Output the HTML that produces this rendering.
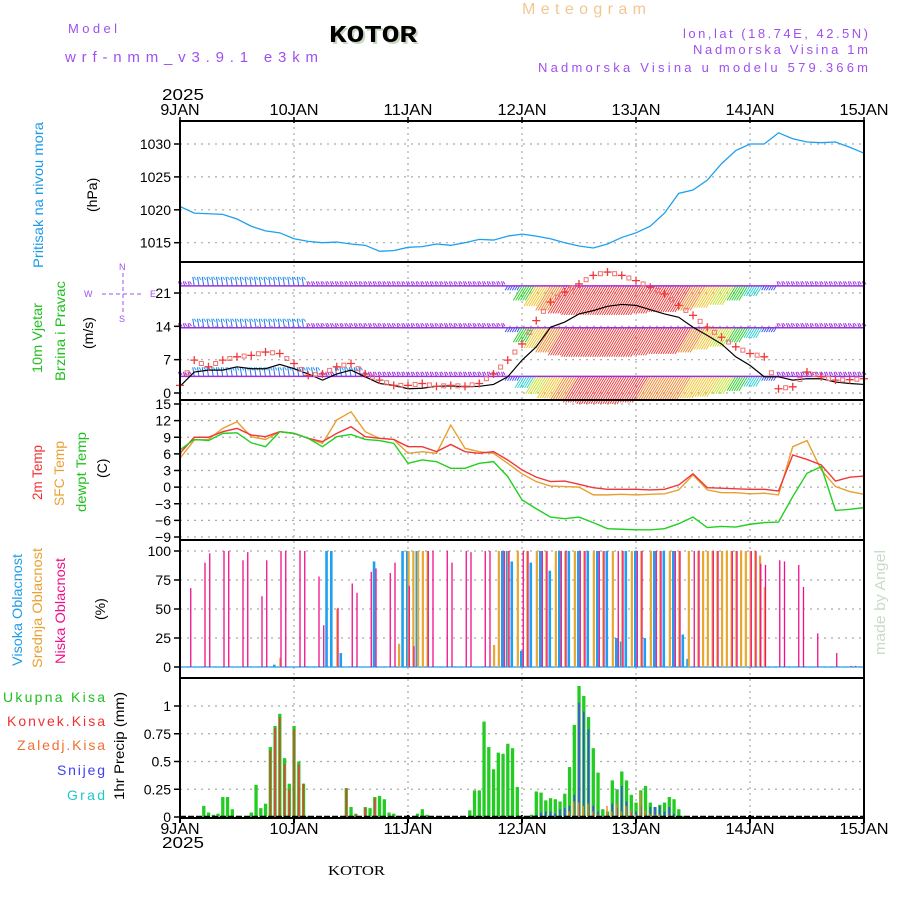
<!DOCTYPE html>
<html><head><meta charset="utf-8">
<style>
html,body{margin:0;padding:0;background:#fff;}
svg{display:block;font-family:"Liberation Sans",sans-serif;}
</style></head>
<body>
<svg id="chart" width="900" height="900" viewBox="0 0 900 900" xmlns="http://www.w3.org/2000/svg">
<g>
<text x="68" y="33" font-size="13" fill="#a050f0" textLength="49" lengthAdjust="spacing">Model</text>
<text x="65" y="62" font-size="15" fill="#a050f0" textLength="253" lengthAdjust="spacing">wrf-nmm_v3.9.1 e3km</text>
<text x="331" y="44" font-size="24" font-weight="bold" fill="#c8d8c0" font-family="Liberation Mono,monospace" textLength="88" lengthAdjust="spacingAndGlyphs">KOTOR</text>
<text x="329" y="42" font-size="24" font-weight="bold" fill="#000" font-family="Liberation Mono,monospace" textLength="88" lengthAdjust="spacingAndGlyphs">KOTOR</text>
<text x="522" y="14" font-size="16" fill="#f0c890" textLength="124" lengthAdjust="spacing">Meteogram</text>
<text x="868" y="38" font-size="13" fill="#a050f0" text-anchor="end" textLength="185" lengthAdjust="spacing">lon,lat (18.74E, 42.5N)</text>
<text x="868" y="54" font-size="13" fill="#a050f0" text-anchor="end" textLength="175" lengthAdjust="spacing">Nadmorska Visina 1m</text>
<text x="868" y="72" font-size="13" fill="#a050f0" text-anchor="end" textLength="330" lengthAdjust="spacing">Nadmorska Visina u modelu 579.366m</text>
<text x="162" y="100" font-size="16" fill="#000" textLength="42" lengthAdjust="spacingAndGlyphs">2025</text>
<text x="162" y="848" font-size="16" fill="#000" textLength="42" lengthAdjust="spacingAndGlyphs">2025</text>
<text x="328" y="875" font-size="14" fill="#000" font-family="Liberation Serif,serif" textLength="57" lengthAdjust="spacingAndGlyphs">KOTOR</text>
<text transform="translate(885,655) rotate(-90)" font-size="15" fill="#c8dcc8" textLength="105" lengthAdjust="spacingAndGlyphs">made by Angel</text>
</g>
<g id="ylabels">
<text transform="translate(43,268) rotate(-90)" font-size="14" fill="#1e9be8" textLength="146" lengthAdjust="spacingAndGlyphs">Pritisak na nivou mora</text>
<text transform="translate(97,212) rotate(-90)" font-size="14" fill="#000">(hPa)</text>
<text transform="translate(42,373) rotate(-90)" font-size="14" fill="#20c020" textLength="70" lengthAdjust="spacingAndGlyphs">10m Vjetar</text>
<text transform="translate(65,381) rotate(-90)" font-size="14" fill="#20c020" textLength="100" lengthAdjust="spacingAndGlyphs">Brzina i Pravac</text>
<text transform="translate(93,349) rotate(-90)" font-size="14" fill="#000">(m/s)</text>
<g font-size="9" fill="#a050f0">
<text x="119" y="270">N</text><text x="84" y="297">W</text><text x="150" y="297">E</text><text x="119" y="322">S</text>
<line x1="102" y1="294" x2="142" y2="294" stroke="#a050f0" stroke-dasharray="4,3"/>
<line x1="123" y1="273" x2="123" y2="314" stroke="#a050f0" stroke-dasharray="4,3"/>
</g>
<text transform="translate(42,500) rotate(-90)" font-size="14" fill="#f03030" textLength="55" lengthAdjust="spacingAndGlyphs">2m Temp</text>
<text transform="translate(64,506) rotate(-90)" font-size="14" fill="#e8a030" textLength="65" lengthAdjust="spacingAndGlyphs">SFC Temp</text>
<text transform="translate(86,512) rotate(-90)" font-size="14" fill="#20c020" textLength="80" lengthAdjust="spacingAndGlyphs">dewpt Temp</text>
<text transform="translate(107,478) rotate(-90)" font-size="14" fill="#000">(C)</text>
<text transform="translate(22,666) rotate(-90)" font-size="14" fill="#1e9be8" textLength="112" lengthAdjust="spacingAndGlyphs">Visoka Oblacnost</text>
<text transform="translate(42,668) rotate(-90)" font-size="14" fill="#e8a030" textLength="120" lengthAdjust="spacingAndGlyphs">Srednja Oblacnost</text>
<text transform="translate(65,664) rotate(-90)" font-size="14" fill="#f0108a" textLength="106" lengthAdjust="spacingAndGlyphs">Niska Oblacnost</text>
<text transform="translate(105,620) rotate(-90)" font-size="14" fill="#000">(%)</text>
<text x="3" y="702" font-size="14" fill="#20c020" textLength="102" lengthAdjust="spacing">Ukupna Kisa</text>
<text x="7" y="726" font-size="14" fill="#f03030" textLength="98" lengthAdjust="spacing">Konvek.Kisa</text>
<text x="17" y="750" font-size="14" fill="#f07030" textLength="88" lengthAdjust="spacing">Zaledj.Kisa</text>
<text x="57" y="775" font-size="14" fill="#4040f0" textLength="48" lengthAdjust="spacing">Snijeg</text>
<text x="67" y="800" font-size="14" fill="#20c8c8" textLength="38" lengthAdjust="spacing">Grad</text>
<text transform="translate(124,800) rotate(-90)" font-size="14" fill="#000" textLength="108" lengthAdjust="spacingAndGlyphs">1hr Precip (mm)</text>
</g>
<g id="plot"></g>
</svg>
<script>
// ---------- data ----------
const days = ["9JAN","10JAN","11JAN","12JAN","13JAN","14JAN","15JAN"];
const hours3 = [0,3,6,9,12,15,18,21,24,27,30,33,36,39,42,45,48,51,54,57,60,63,66,69,72,75,78,81,84,87,90,93,96,99,102,105,108,111,114,117,120,123,126,129,132,135,138,141,144];
const pressure = [1020.5,1019.5,1019.4,1019.3,1018.6,1017.5,1016.8,1016.5,1015.6,1015.2,1015.0,1015.1,1014.8,1014.6,1013.7,1013.8,1014.3,1014.4,1014.8,1014.6,1015.0,1015.5,1015.4,1016.0,1016.3,1016.0,1015.6,1015.0,1014.5,1014.2,1014.8,1015.8,1016.5,1017.5,1019.5,1022.5,1023.0,1024.5,1027.0,1029.0,1030.0,1030.0,1031.7,1030.8,1030.3,1030.2,1030.3,1029.5,1028.6];
const windSpeed = [1.4,4.4,4.8,4.8,5.5,5.1,5.1,6.0,5.1,4.0,2.7,4.0,4.8,3.4,2.0,1.6,0.9,1.0,1.4,1.5,1.3,1.4,1.8,3.4,6.9,9.7,13.8,14.9,16.6,17.3,18.2,18.6,18.4,17.5,16.6,15.9,13.8,12.1,10.3,7.6,5.8,3.4,3.4,2.7,3.0,3.0,2.3,2.0,1.8];
const windGust = [1.6,6.9,5.5,6.9,7.6,7.9,8.6,8.3,6.2,3.7,4.0,5.5,6.2,4.0,2.7,1.6,1.6,2.0,1.4,1.6,1.4,2.0,4.0,6.9,10.3,15.2,19.1,21.2,22.9,24.7,25.4,24.7,23.6,22.2,20.8,18.4,16.3,13.8,11.7,9.7,8.3,7.6,0.9,1.3,4.4,3.4,2.7,2.8,3.0];
const barbLow = [1,2,2,2,2,2,2,2,2,2,1,2,2,1,1,1,1,1,1,1,1,1,1,3,8,12,15,17,18,19,19,19,18,17,17,16,15,14,12,10,7,3,1,1,1,1,1,1,1];
const barbMid = [1,2,2,2,2,2,2,2,2,1,1,1,1,1,1,1,1,1,1,1,1,1,1,3,10,14,17,19,20,20,20,20,20,19,18,18,17,15,13,10,7,3,1,1,1,1,1,1,1];
const barbTop = [1,2,2,2,2,2,2,2,2,1,1,1,1,1,1,1,1,1,1,1,1,1,1,3,10,14,17,19,20,20,20,20,20,19,18,18,17,15,13,10,7,3,1,1,1,1,1,1,1];
const barbLevel = [3.5,13.7,22.5];
const temp2m = [6.1,9.0,9.0,10.0,10.6,9.4,9.1,10.0,9.7,8.8,8.2,9.7,10.9,9.1,8.8,8.6,7.3,7.3,6.4,7.7,6.4,6.1,6.4,4.9,3.1,1.8,1.0,1.1,0.5,-0.1,-0.4,-0.4,-0.4,-0.5,-0.4,0.4,2.4,-0.1,-0.2,-0.3,-0.4,-0.4,-0.7,5.8,5.0,4.0,1.1,1.8,2.0];
const tempSfc = [5.2,8.5,8.6,10.6,11.8,9.1,8.6,10.0,9.7,8.8,7.9,12.1,13.6,10.0,8.8,8.6,6.1,6.4,6.1,11.2,7.0,6.4,6.1,4.3,2.4,1.0,0.2,0.1,0.0,-1.4,-1.4,-1.3,-1.4,-1.3,-1.2,-0.5,2.2,-0.5,-1.0,-1.0,-1.2,-1.1,-1.4,7.3,8.4,3.1,0.1,-0.8,-1.3];
const dewpt = [6.7,8.6,8.4,9.7,9.8,8.0,7.3,10.0,9.7,8.8,7.3,9.1,9.5,8.6,8.4,7.9,4.3,4.9,4.6,3.4,3.4,4.3,4.6,1.9,-2.3,-3.9,-5.4,-5.7,-5.4,-6.4,-7.5,-7.6,-7.7,-7.7,-7.5,-6.6,-5.4,-7.3,-7.1,-7.2,-6.7,-6.4,-6.3,-1.7,2.5,3.7,-4.2,-4.0,-3.7];
const cloudHigh = [0,0,0,0,0,0,0,0,0,0,0,0,0,0,0,0,0,0,0,0,2,0,0,0,0,0,0,0,0,0,0,100,100,0,12,0,0,0,0,0,0,91,0,0,0,0,0,100,100,0,100,0,0,0,0,0,0,0,0,0,0,0,0,0,0,0,0,0,100,100,91,0,14,0,90,0,100,0,83,0,100,0,100,0,100,0,100,0,100,0,100,0,25,22,100,0,100,0,25,0,100,0,100,0,100,0,28,7,0,0,0,0,0,0,0,0,0,0,0,0,0,0,0,0,0,0,0,0,0,0,0,0,0,0,0,0,0,0,0,0,0,0,0];
const cloudMid = [0,0,0,0,0,0,0,0,0,0,0,0,0,0,0,0,0,0,0,0,0,8,0,0,0,0,0,0,0,0,0,0,0,50,0,0,0,0,0,0,0,0,0,0,0,0,20,0,100,100,100,100,100,0,0,0,0,0,0,0,0,0,0,0,0,0,19,100,0,100,0,100,0,100,0,100,0,100,0,100,0,100,0,100,0,100,0,100,0,100,0,100,0,100,0,100,0,100,0,100,0,100,0,100,0,100,0,100,0,100,100,100,100,100,100,100,100,100,100,100,100,100,96,69,0,0,0,0,0,0,0,0,0,0,0,0,0,0,0,0,0,0,0,0,0];
const cloudLow = [0,0,68,0,0,90,98,0,0,100,100,0,0,92,99,0,0,61,92,0,0,100,100,0,0,100,100,0,0,78,36,0,0,51,0,0,72,64,0,0,82,85,0,0,81,90,0,0,70,18,0,0,100,100,0,0,100,90,0,0,100,99,0,0,100,100,0,0,100,100,0,0,100,100,0,0,100,100,0,0,100,100,0,0,100,100,0,0,100,100,0,0,100,100,0,0,100,100,0,0,100,100,0,0,100,100,0,0,100,100,0,0,100,100,0,0,100,100,0,0,100,100,89,88,0,0,92,91,0,0,88,69,0,0,29,0,0,0,12,0,0,1,1,0,0];
const precipHours = [5,6,7,8,9,10,11,12,15,16,17,18,19,20,21,22,23,24,25,26,27,35,36,37,39,40,41,42,43,44,45,50,51,52,61,62,63,64,65,66,67,68,69,70,71,72,74,75,76,77,78,79,80,81,82,83,84,85,86,87,88,89,90,91,92,93,94,95,96,97,98,99,100,101,102,103,104,105,106];
const precipTotal = [0.10,0.04,0.02,0.03,0.18,0.18,0.07,0.01,0.04,0.29,0.08,0.12,0.63,0.82,0.93,0.53,0.30,0.82,0.50,0.30,0.01,0.26,0.09,0.03,0.09,0.08,0.18,0.19,0.16,0.04,0.03,0.03,0.07,0.02,0.06,0.24,0.24,0.86,0.63,0.43,0.58,0.57,0.66,0.62,0.27,0.01,0.02,0.23,0.22,0.15,0.17,0.16,0.14,0.21,0.45,0.83,1.18,1.09,0.90,0.62,0.40,0.07,0.05,0.33,0.25,0.41,0.33,0.20,0.13,0.24,0.28,0.13,0.09,0.11,0.13,0.18,0.16,0.07,0.01];
const precipConv = [0,0,0,0,0,0,0,0,0,0,0,0,0.60,0.80,0.90,0.48,0.25,0.79,0.47,0.30,0,0.26,0,0.02,0.08,0,0.17,0,0,0,0,0,0,0,0,0,0,0,0,0,0,0,0,0,0,0,0,0,0,0,0,0,0,0,0,0,0,0,0,0,0,0,0,0,0,0,0,0,0,0,0,0,0,0,0,0,0,0,0];
const precipSnow = [0,0,0,0,0,0,0,0,0,0,0,0,0,0,0,0,0,0,0,0,0,0,0,0,0,0,0,0,0,0,0,0,0,0,0,0,0,0,0,0,0,0,0,0,0,0,0,0.02,0.04,0.05,0.05,0.03,0.07,0.08,0.10,0.20,1.03,0.95,0.79,0.10,0.05,0.01,0.03,0.12,0.08,0.28,0.14,0.05,0.05,0.10,0.03,0.09,0.09,0.10,0.05,0.09,0.03,0,0];
const precipFrozen = [0,0,0,0,0,0,0,0,0,0,0,0,0,0,0,0,0,0,0,0,0,0,0,0,0,0,0,0,0,0,0,0,0,0,0,0,0,0,0,0,0,0,0,0,0,0,0,0,0,0,0,0,0,0,0.05,0.14,0.13,0.10,0.12,0.05,0.02,0.01,0.10,0.05,0.12,0.05,0.10,0.06,0.02,0.22,0.06,0.03,0.02,0.02,0.01,0.02,0.01,0,0];
const pTicks = [1015,1020,1025,1030];
const wTicks = [0,7,14,21];
const tTicks = [-9,-6,-3,0,3,6,9,12,15];
const cTicks = [0,25,50,75,100];
const rTicks = [0,0.25,0.5,0.75,1];

// ---------- layout ----------
const X0 = 180, X1 = 864, HMAX = 144;
const panels = [
  {name:"pressure", top:121, bot:262},
  {name:"wind", top:262, bot:400},
  {name:"temp", top:400, bot:540},
  {name:"cloud", top:540, bot:678},
  {name:"precip", top:678, bot:818}
];
const xs = h => X0 + (X1 - X0) * h / HMAX;
const lin = (d0,d1,r0,r1) => v => r0 + (v - d0) * (r1 - r0) / (d1 - d0);
const yP = lin(1015,1030,242.7,144);
const yW = lin(0,21,393,293);
const yT = lin(-9,15,537,404);
const yC = lin(0,100,667,551);
const yR = lin(0,1,817,706);
const NS = "http://www.w3.org/2000/svg";
const plot = document.getElementById("plot");
function mk(tag, attrs, parent){
  const e = document.createElementNS(NS, tag);
  for (const k in attrs) e.setAttribute(k, attrs[k]);
  (parent || plot).appendChild(e);
  return e;
}
function group(name){
  const g = mk("g", {});
  
  
  return g;
}
const grid = group("grid-lines");
for (let d = 1; d < days.length - 1; d++) {
  const l = mk("line", {x1:xs(d*24), x2:xs(d*24), y1:121, y2:818, stroke:"#999", "stroke-width":1, "stroke-dasharray":"2,4"}, grid);
  
  
}
function hgrid(vals, yf){
  vals.forEach(v => {
    const l = mk("line", {x1:X0, x2:X1, y1:yf(v), y2:yf(v), stroke:"#aaa", "stroke-width":1.2, "stroke-dasharray":"2,5"}, grid);
    
    
  });
}
hgrid(pTicks, yP); hgrid(wTicks, yW); hgrid(tTicks, yT); hgrid(cTicks, yC); hgrid(rTicks.slice(1), yR);
function yticks(vals, yf, name){
  const g = group(name);
  vals.forEach(v => {
    mk("line", {x1:X0-6, x2:X0, y1:yf(v), y2:yf(v), stroke:"#000", "stroke-width":1.5}, g);
    const t = mk("text", {x:X0-9, y:yf(v)+5, "font-size":14, "text-anchor":"end", fill:"#000"}, g);
    t.textContent = String(v).replace("-", "\u2212");
    
    
  });
}
yticks(pTicks, yP, "pressure-y-axis");
yticks(wTicks, yW, "wind-y-axis");
yticks(tTicks, yT, "temp-y-axis");
yticks(cTicks, yC, "cloud-y-axis");
yticks(rTicks, yR, "precip-y-axis");
const xa = group("x-axis-labels");
days.forEach((d, i) => {
  [115, 834].forEach(ty => {
    const t = mk("text", {x:xs(i*24), y:ty, "font-size":16, "text-anchor":"middle", fill:"#000", textLength:d.length*9.8, lengthAdjust:"spacingAndGlyphs"}, xa);
    t.textContent = d;
    
    
  });
  mk("line", {x1:xs(i*24), x2:xs(i*24), y1:117, y2:123, stroke:"#000", "stroke-width":1.5}, xa);
  mk("line", {x1:xs(i*24), x2:xs(i*24), y1:815, y2:823, stroke:"#000", "stroke-width":2}, xa);
});

// ---------- pressure ----------
const pl = mk("polyline", {points:hours3.map((h,i)=>xs(h)+","+yP(pressure[i])).join(" "), fill:"none", stroke:"#1ea0f0", "stroke-width":1.3});



// ---------- wind ----------
const colorScale = ["#9a30e0","#3050f0","#20a0f0","#20d0d0","#20d020","#c0e020","#f0c020","#f08020","#f03030"];
function windColor(s){ const i = Math.max(0, Math.min(colorScale.length-1, Math.round(s/2.4))); return colorScale[i]; }
const barbs = group("wind-barbs");
[barbLow, barbMid, barbTop].forEach((arr, li) => {
  const base = yW(barbLevel[li]);
  const pts = [];
  arr.forEach((s, i) => {
    for (let k = 0; k < 3; k++) {
      const h = hours3[i] + k;
      if (h > 144) break;
      const x = xs(h);
      const c = windColor(s);
      if (s <= 2) {
        const len = s * 4.5;
        mk("line", {x1:x, y1:base, x2:x - 1.5, y2:base - len, stroke:(s>=2?"#2a70f0":"#9a30e0"), "stroke-width":1}, barbs);
        mk("line", {x1:x, y1:base - len, x2:x + 2, y2:base - len + 3, stroke:(s>=2?"#20a8f0":"#9a30e0"), "stroke-width":1}, barbs);
      } else {
        const len = s * 1.45;
        mk("line", {x1:x, y1:base, x2:x - len*0.6, y2:base + len, stroke:c, "stroke-width":0.9}, barbs);
        mk("line", {x1:x+2.4, y1:base, x2:x + 2.4 - len*0.6, y2:base + len, stroke:c, "stroke-width":0.9}, barbs);
      }
    }
    pts.push(xs(hours3[i]) + "," + base);
  });
  const bl = mk("polyline", {points:pts.join(" "), fill:"none", stroke:"#9a30e0", "stroke-width":1.5}, barbs);
  
  
});
const ws = mk("polyline", {points:hours3.map((h,i)=>xs(h)+","+yW(windSpeed[i])).join(" "), fill:"none", stroke:"#000", "stroke-width":1.2});


const gg = group("wind-gust-markers");
hours3.forEach((h, i) => {
  const x = xs(h), y = yW(windGust[i]);
  mk("path", {d:`M${x-4},${y}H${x+4}M${x},${y-4}V${y+4}`, stroke:"#f03838", "stroke-width":1.3}, gg);
  if (i < hours3.length - 1) {
    const xm = xs(h + 1.5), ym = yW((windGust[i] + windGust[i+1]) / 2);
    mk("rect", {x:xm-2, y:ym-2, width:4, height:4, fill:"none", stroke:"#f07070", "stroke-width":1}, gg);
  }
});

// ---------- temperature ----------
[[tempSfc,"#e8a030","sfc-temp-line"],[temp2m,"#f03838","temp-2m-line"],[dewpt,"#20d020","dewpoint-line"]].forEach(([arr,c,n]) => {
  const l = mk("polyline", {points:hours3.map((h,i)=>xs(h)+","+yT(arr[i])).join(" "), fill:"none", stroke:c, "stroke-width":1.4});
  
  
});

// ---------- clouds ----------
const cg = group("cloud-bars");
mk("line", {x1:X0, x2:X1, y1:yC(0), y2:yC(0), stroke:"#20a0f0", "stroke-width":1.2}, cg);
for (let h = 0; h <= 144; h++) {
  const x = xs(h);
  if (cloudHigh[h] > 0) { const r = mk("rect", {x:x-2, y:yC(cloudHigh[h]), width:2.6, height:yC(0)-yC(cloudHigh[h]), fill:"#1ea0f0"}, cg);   }
  if (cloudMid[h] > 0) { const r = mk("rect", {x:x-0.5, y:yC(cloudMid[h]), width:2.2, height:yC(0)-yC(cloudMid[h]), fill:"#e8a830"}, cg);   }
  if (cloudLow[h] > 0) { const r = mk("rect", {x:x+0.6, y:yC(cloudLow[h]), width:1.3, height:yC(0)-yC(cloudLow[h]), fill:"#f0108a"}, cg);   }
}

// ---------- precipitation ----------
const pg = group("precip-bars");
precipHours.forEach((h, i) => {
  const x = xs(h);
  const r = mk("rect", {x:x-1.6, y:yR(precipTotal[i]), width:3.3, height:yR(0)-yR(precipTotal[i]), fill:"#22cc22"}, pg);
  
  
  if (precipConv[i] > 0) mk("rect", {x:x-0.8, y:yR(precipConv[i]), width:1.6, height:yR(0)-yR(precipConv[i]), fill:"#f03838"}, pg);
  if (precipSnow[i] > 0) mk("rect", {x:x-0.8, y:yR(precipSnow[i]), width:1.6, height:yR(0)-yR(precipSnow[i]), fill:"#4048f0"}, pg);
  if (precipFrozen[i] > 0) mk("rect", {x:x-1.2, y:yR(precipFrozen[i]), width:1.4, height:yR(0)-yR(precipFrozen[i]), fill:"#f08020"}, pg);
});
mk("line", {x1:X0, x2:X1, y1:yR(0), y2:yR(0), stroke:"#000", "stroke-width":2.5, "stroke-dasharray":"6,2"}, pg);

// ---------- frames ----------
const fr = group("panel-frames");
panels.forEach(p => {
  const r = mk("rect", {x:X0, y:p.top, width:X1-X0, height:p.bot-p.top, fill:"none", stroke:"#000", "stroke-width":2}, fr);
  
  
});
</script>
</body></html>
